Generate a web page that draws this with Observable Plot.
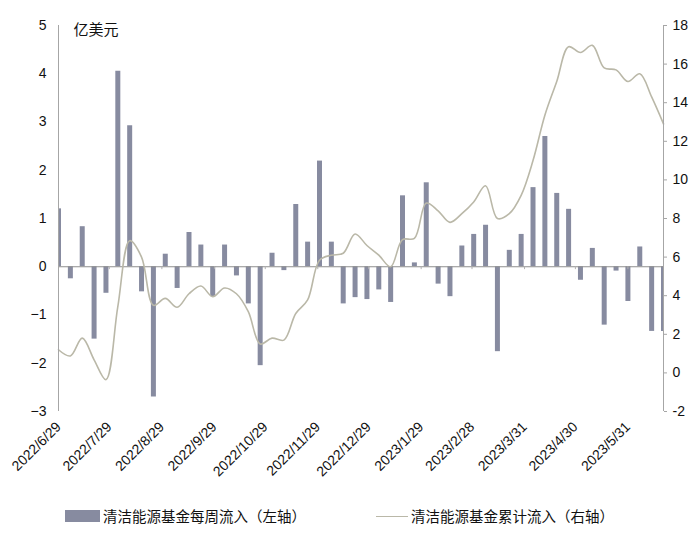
<!DOCTYPE html>
<html>
<head>
<meta charset="utf-8">
<script src="https://cdn.jsdelivr.net/npm/d3@7"></script>
<script src="https://cdn.jsdelivr.net/npm/@observablehq/plot@0.6"></script>
<style>
  html, body { margin: 0; padding: 0; background: #fff; }
  body { width: 700px; height: 536px; overflow: hidden; font-family: "Liberation Sans", Arial, "Noto Sans CJK SC", sans-serif; }
  #chart svg { display: block; }
  .legend { position: relative; width: 700px; height: 41px; font-family: "Noto Sans CJK SC", "Liberation Sans", sans-serif; font-size: 14.5px; color: #111; }
  .legend .sw-bar { position: absolute; left: 65px; top: 15px; width: 35px; height: 12px; background: #878ba0; }
  .legend .sw-line { position: absolute; left: 376px; top: 21px; width: 32px; height: 0; border-top: 1.5px solid #bab8a8; }
  .legend .t1 { position: absolute; left: 103px; top: 11px; line-height: 20px; white-space: nowrap; }
  .legend .t2 { position: absolute; left: 411px; top: 11px; line-height: 20px; white-space: nowrap; }
</style>
</head>
<body>
<div id="chart"></div>
<div class="legend">
  <div class="sw-bar"></div><div class="t1">清洁能源基金每周流入（左轴）</div>
  <div class="sw-line"></div><div class="t2">清洁能源基金累计流入（右轴）</div>
</div>
<script>
// Weekly inflow (left axis, 亿美元), weekly from 2022-06-29
const weeklyInflow = [1.2,-0.25,0.83,-1.5,-0.55,4.05,2.92,-0.52,-2.7,0.26,-0.45,0.71,0.45,-0.62,0.45,-0.19,-0.77,-2.05,0.28,-0.08,1.29,0.51,2.19,0.51,-0.77,
  -0.64,-0.68,-0.48,-0.74,1.47,0.08,1.74,-0.36,-0.62,0.43,0.67,0.86,-1.76,0.34,0.67,1.64,2.70,1.52,1.19,-0.28,0.38,-1.21,-0.09,-0.72,0.41,-1.34,-1.34];
// Cumulative inflow (right axis)
const cumulativeInflow = [1.2,0.88,1.8,0.68,-0.35,3.43,6.85,6.0,3.5,3.86,3.4,4.1,4.5,3.95,4.4,4.1,3.17,1.5,1.8,1.7,3.08,3.78,5.84,6.1,6.2,
  7.2,6.6,6.1,5.5,6.9,6.97,8.8,8.4,7.8,8.25,8.86,9.7,8.0,8.25,9.2,11.0,13.35,15.1,16.9,16.6,16.97,15.8,15.7,15.1,15.5,14.3,12.9];
const startDate = "2022-06-29";
const endDate = "2023-06-21";
const xTickLabels = ["2022/6/29","2022/7/29","2022/8/29","2022/9/29","2022/10/29","2022/11/29","2022/12/29","2023/1/29","2023/2/28","2023/3/31","2023/4/30","2023/5/31"];
const leftTicks = [-3,-2,-1,0,1,2,3,4,5];
const rightTicks = [-2,0,2,4,6,8,10,12,14,16,18];
const leftDomain = [-3, 5];
const rightDomain = [-2, 18];
const unitLabel = "亿美元";

const parse = s => { const [y,m,d] = s.split(/[-\/]/).map(Number); return new Date(Date.UTC(y, m-1, d)); };
const start = parse(startDate), end = parse(endDate);
const dates = weeklyInflow.map((_, i) => new Date(start.getTime() + i * 7 * 864e5));
const bars = weeklyInflow.map((v, i) => ({date: dates[i], v}));
const cum = cumulativeInflow.map((v, i) => ({date: dates[i], v}));
const tickDates = xTickLabels.map(parse);
const fmt = d => `${d.getUTCFullYear()}/${d.getUTCMonth()+1}/${d.getUTCDate()}`;
// map right-axis values into left-axis units
const toLeft = v => leftDomain[0] + (v - rightDomain[0]) * (leftDomain[1]-leftDomain[0]) / (rightDomain[1]-rightDomain[0]);
const fromLeft = y => rightDomain[0] + (y - leftDomain[0]) * (rightDomain[1]-rightDomain[0]) / (leftDomain[1]-leftDomain[0]);

const axisColor = "#a6a6a6";
const plot = Plot.plot({
  width: 700,
  height: 495,
  marginTop: 25,
  marginBottom: 84,
  marginLeft: 58,
  marginRight: 37,
  style: {fontFamily: "'Liberation Sans', Arial, sans-serif", fontSize: "14px", color: "#111"},
  x: {type: "utc", domain: [start, end]},
  y: {domain: leftDomain},
  marks: [
    Plot.ruleX(bars, {x: "date", y1: 0, y2: "v", stroke: "#878ba0", strokeWidth: 5, clip: true}),
    Plot.ruleY([0], {stroke: "#8e8e8e", strokeWidth: 1}),
    Plot.ruleX(tickDates, {y1: 0, y2: -0.06, stroke: "#b0b0b0", strokeWidth: 1}),
    Plot.line(cum, {x: "date", y: d => toLeft(d.v), curve: "catmull-rom", stroke: "#bab8a8", strokeWidth: 1.6}),
    Plot.ruleX([start], {y1: leftDomain[0], y2: leftDomain[1], stroke: axisColor}),
    Plot.ruleX([end], {y1: leftDomain[0], y2: leftDomain[1], stroke: axisColor}),
    Plot.axisY(leftTicks, {anchor: "left", tickSize: 0, tickPadding: 12, label: null, fontSize: 14}),
    Plot.axisY(rightTicks.map(toLeft), {anchor: "right", tickSize: 3, tickPadding: 6, stroke: axisColor, label: null, fontSize: 14,
      tickFormat: y => String(Math.round(fromLeft(y)))}),
    Plot.axisX(tickDates, {anchor: "bottom", tickSize: 0, tickPadding: 13, tickRotate: -45, label: null, fontSize: 14, tickFormat: fmt}),
    Plot.text([unitLabel], {frameAnchor: "top-left", dx: 15, dy: -1, lineAnchor: "top", textAnchor: "start", fontSize: 15,
      fontFamily: "'Noto Sans CJK SC', sans-serif", fill: "#111"})
  ]
});
document.getElementById("chart").appendChild(plot);
</script>
</body>
</html>
